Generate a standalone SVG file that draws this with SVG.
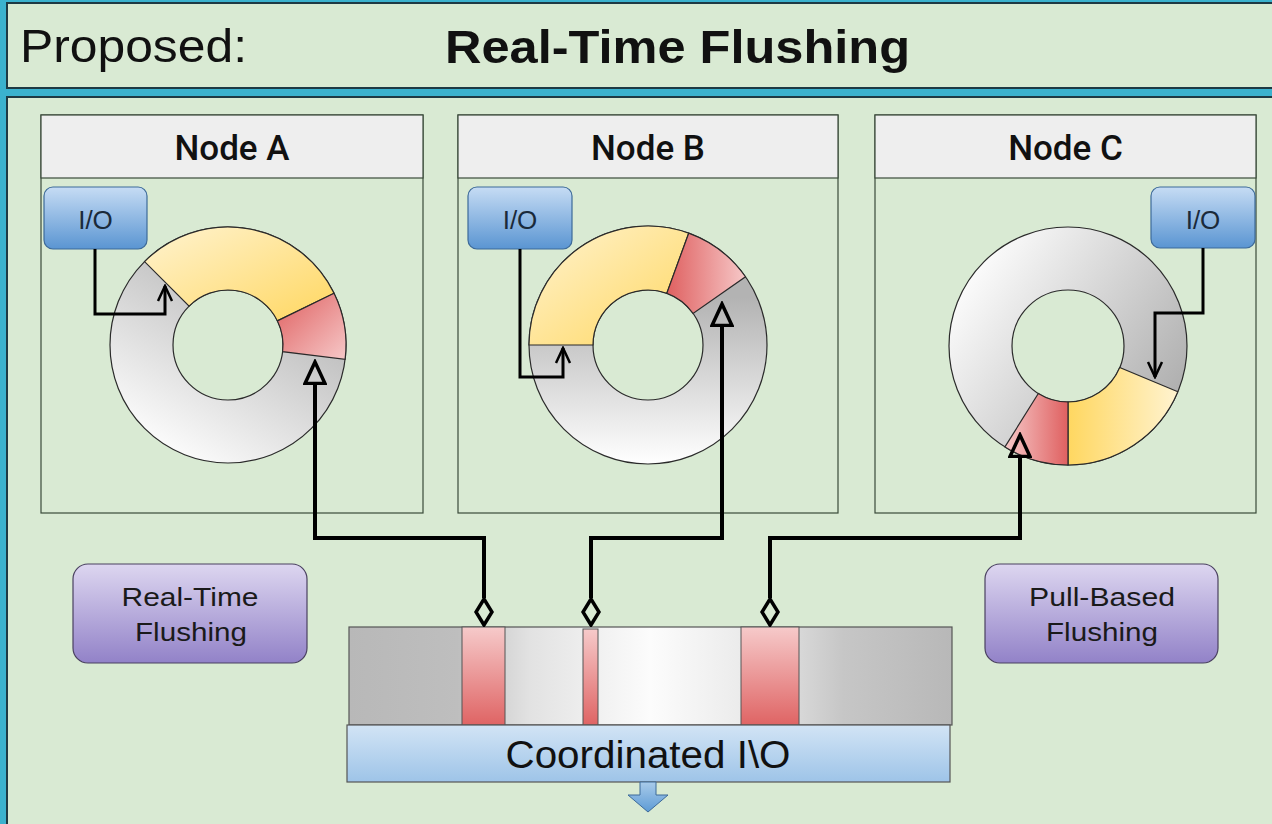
<svg xmlns="http://www.w3.org/2000/svg" width="1272" height="824" viewBox="0 0 1272 824">
<style>
.panel{fill:#d9ead3;stroke:#1e3a44;stroke-width:2}
.box{fill:none;stroke:#3a4a3a;stroke-width:1.2}
.hdr{fill:#eeeeee;stroke:#3a4a3a;stroke-width:1.2}
.hdrt{font-family:Roboto,"Liberation Sans",sans-serif;font-weight:500;font-size:35px;fill:#111;text-anchor:middle}
.io{stroke:#3d6a99;stroke-width:1.2}
.iot{font-family:"Liberation Sans",Arial,sans-serif;font-size:26px;fill:#1a2a3a;text-anchor:middle}
.seg{stroke:#2a2a2a;stroke-width:1.2}
.lbl{fill:url(#purp);stroke:#4a4060;stroke-width:1.2}
.lblt{font-family:"Liberation Sans",Arial,sans-serif;font-size:26px;fill:#1a1a1a;text-anchor:middle}
.thick{fill:none;stroke:#000;stroke-width:4}
.thin{fill:none;stroke:#000;stroke-width:3}
.strip{fill:url(#redv);stroke:#555;stroke-width:1}
</style>
<defs>
<linearGradient id="ioG" x1="0" y1="0" x2="0" y2="1"><stop offset="0" stop-color="#c6dcf4"/><stop offset="1" stop-color="#5a95d2"/></linearGradient>
<linearGradient id="purp" x1="0" y1="0" x2="0" y2="1"><stop offset="0" stop-color="#ddd6f0"/><stop offset="1" stop-color="#9282c8"/></linearGradient>
<linearGradient id="blueBar" x1="0" y1="0" x2="0" y2="1"><stop offset="0" stop-color="#d2e4f5"/><stop offset="1" stop-color="#9ec4e8"/></linearGradient>
<linearGradient id="blueArr" x1="0" y1="0" x2="0" y2="1"><stop offset="0" stop-color="#a9cbea"/><stop offset="1" stop-color="#5d9bd5"/></linearGradient>
<linearGradient id="redv" x1="0" y1="0" x2="0" y2="1"><stop offset="0" stop-color="#f6caca"/><stop offset="1" stop-color="#df6464"/></linearGradient>
<linearGradient id="barG" x1="0" y1="0" x2="1" y2="0"><stop offset="0" stop-color="#b8b8b8"/><stop offset="0.18" stop-color="#bebebe"/><stop offset="0.3" stop-color="#e2e2e2"/><stop offset="0.5" stop-color="#fcfcfc"/><stop offset="0.68" stop-color="#e8e8e8"/><stop offset="0.82" stop-color="#c6c6c6"/><stop offset="1" stop-color="#b8b8b8"/></linearGradient>
<linearGradient id="grayA" x1="0.75" y1="0.15" x2="0.25" y2="1"><stop offset="0" stop-color="#b0b0b0"/><stop offset="1" stop-color="#ffffff"/></linearGradient>
<linearGradient id="grayB" x1="0.5" y1="0.3" x2="0.5" y2="1"><stop offset="0" stop-color="#b3b3b3"/><stop offset="1" stop-color="#ffffff"/></linearGradient>
<linearGradient id="grayC" x1="0.1" y1="0.1" x2="0.95" y2="0.7"><stop offset="0" stop-color="#ffffff"/><stop offset="1" stop-color="#b0b0b0"/></linearGradient>
<linearGradient id="yelTL" x1="0" y1="0" x2="1" y2="1"><stop offset="0" stop-color="#fff3d0"/><stop offset="1" stop-color="#ffd760"/></linearGradient>
<linearGradient id="yelLR" x1="0" y1="0" x2="1" y2="0"><stop offset="0" stop-color="#ffd760"/><stop offset="1" stop-color="#fff3d0"/></linearGradient>
<linearGradient id="redTL" x1="0" y1="0" x2="1" y2="1"><stop offset="0" stop-color="#df6060"/><stop offset="1" stop-color="#f6c8c8"/></linearGradient>
<linearGradient id="redLR" x1="0" y1="0" x2="1" y2="0"><stop offset="0" stop-color="#df6060"/><stop offset="1" stop-color="#f6c8c8"/></linearGradient>
<linearGradient id="redRL" x1="0" y1="0" x2="1" y2="0"><stop offset="0" stop-color="#f6c8c8"/><stop offset="1" stop-color="#df6060"/></linearGradient>
<marker id="hollow" viewBox="0 -12 26 24" refX="1" refY="0" markerWidth="26" markerHeight="24" markerUnits="userSpaceOnUse" orient="auto">
<path d="M1.5,-10 L23,0 L1.5,10 Z" fill="none" stroke="#000" stroke-width="3.5" stroke-linejoin="miter"/>
</marker>
<marker id="diam" viewBox="-1 -10 30 20" refX="28" refY="0" markerWidth="30" markerHeight="20" markerUnits="userSpaceOnUse" orient="auto">
<path d="M1,0 L14,-8 L27,0 L14,8 Z" fill="none" stroke="#000" stroke-width="3.5"/>
</marker>
<marker id="open" viewBox="-18 -9 20 18" refX="0" refY="0" markerWidth="20" markerHeight="18" markerUnits="userSpaceOnUse" orient="auto">
<path d="M-15,-7 L0,0 L-15,7" fill="none" stroke="#000" stroke-width="2.5"/>
</marker>
</defs>

<rect x="0" y="0" width="1272" height="824" fill="#3bb2ce"/>
<g id="title">
<rect class="panel" x="7" y="3" width="1280" height="85"/>
<text x="20" y="62" font-family="'Liberation Sans',Arial,sans-serif" font-size="47" fill="#111" textLength="227" lengthAdjust="spacingAndGlyphs">Proposed:</text>
<text x="445" y="63" font-family="'Liberation Sans',Arial,sans-serif" font-size="47" font-weight="bold" fill="#111" textLength="465" lengthAdjust="spacingAndGlyphs">Real-Time Flushing</text>
</g>
<rect class="panel" x="7" y="97" width="1280" height="740"/>

<g id="node-a">
<rect class="box" x="41" y="115" width="382" height="398"/>
<rect class="hdr" x="41" y="115" width="382" height="63"/>
<text class="hdrt" x="232" y="160">Node A</text>
<circle cx="228" cy="345" r="118" fill="url(#grayA)" class="seg"/>
<circle cx="228" cy="345" r="55" fill="#d9ead3" class="seg"/>
<path class="seg" fill="url(#yelTL)" d="M144.56,261.56 A118,118 0 0 1 334.06,293.27 L277.43,320.89 A55,55 0 0 0 189.11,306.11 Z"/>
<path class="seg" fill="url(#redTL)" d="M334.06,293.27 A118,118 0 0 1 345.12,359.38 L282.59,351.70 A55,55 0 0 0 277.43,320.89 Z"/>
</g>
<g id="io-a">
<rect class="io" x="44" y="187" width="103" height="62" rx="9" fill="url(#ioG)"/>
<text class="iot" x="95.5" y="229">I/O</text>
</g>

<g id="node-b">
<rect class="box" x="458" y="115" width="380" height="398"/>
<rect class="hdr" x="458" y="115" width="380" height="63"/>
<text class="hdrt" x="648" y="160">Node B</text>
<circle cx="648" cy="345" r="119" fill="url(#grayB)" class="seg"/>
<circle cx="648" cy="345" r="55" fill="#d9ead3" class="seg"/>
<path class="seg" fill="url(#yelTL)" d="M529,345 A119,119 0 0 1 688.70,233.18 L666.81,293.32 A55,55 0 0 0 593,345 Z"/>
<path class="seg" fill="url(#redLR)" d="M688.70,233.18 A119,119 0 0 1 745.48,276.74 L693.05,313.45 A55,55 0 0 0 666.81,293.32 Z"/>
</g>
<g id="io-b">
<rect class="io" x="468" y="187" width="104" height="62" rx="9" fill="url(#ioG)"/>
<text class="iot" x="520" y="229">I/O</text>
</g>

<g id="node-c">
<rect class="box" x="875" y="115" width="381" height="398"/>
<rect class="hdr" x="875" y="115" width="381" height="63"/>
<text class="hdrt" x="1065.5" y="160">Node C</text>
<circle cx="1068" cy="346" r="119" fill="url(#grayC)" class="seg"/>
<circle cx="1068" cy="346" r="56" fill="#d9ead3" class="seg"/>
<path class="seg" fill="url(#yelLR)" d="M1177.86,391.73 A119,119 0 0 1 1068,465 L1068,402 A56,56 0 0 0 1119.70,367.52 Z"/>
<path class="seg" fill="url(#redRL)" d="M1068,465 A119,119 0 0 1 1004.94,446.92 L1038.32,393.49 A56,56 0 0 0 1068,402 Z"/>
</g>
<g id="io-c">
<rect class="io" x="1151" y="187" width="104" height="61" rx="9" fill="url(#ioG)"/>
<text class="iot" x="1203" y="229">I/O</text>
</g>

<g id="label-realtime">
<rect class="lbl" x="73" y="564" width="234" height="99" rx="15"/>
<text class="lblt" x="190" y="606" textLength="137" lengthAdjust="spacingAndGlyphs">Real-Time</text>
<text class="lblt" x="191" y="641" textLength="112" lengthAdjust="spacingAndGlyphs">Flushing</text>
</g>
<g id="label-pull">
<rect class="lbl" x="985" y="564" width="233" height="99" rx="15"/>
<text class="lblt" x="1102" y="606" textLength="146" lengthAdjust="spacingAndGlyphs">Pull-Based</text>
<text class="lblt" x="1102" y="641" textLength="112" lengthAdjust="spacingAndGlyphs">Flushing</text>
</g>

<g id="coordinated-io">
<rect x="349" y="627" width="603" height="98" fill="url(#barG)" stroke="#555" stroke-width="1.2"/>
<rect class="strip" x="462" y="627" width="43" height="98"/>
<rect class="strip" x="583" y="629" width="15" height="96"/>
<rect class="strip" x="741" y="627" width="58" height="98"/>
<rect x="347" y="725" width="603" height="57" fill="url(#blueBar)" stroke="#555" stroke-width="1.2"/>
<text x="648" y="768" font-family="'Liberation Sans',Arial,sans-serif" font-size="38" fill="#111" text-anchor="middle" textLength="285" lengthAdjust="spacingAndGlyphs">Coordinated I\O</text>
<polygon points="640,782 656,782 656,795 668,795 648,812 628,795 640,795" fill="url(#blueArr)" stroke="#3d6a99" stroke-width="1"/>
</g>

<g id="connectors">
<path class="thin" d="M95,249 V314 H165 V286" marker-end="url(#open)"/>
<path class="thin" d="M520,249 V377 H563 V348" marker-end="url(#open)"/>
<path class="thin" d="M1203,248 V313 H1155 V377" marker-end="url(#open)"/>
<path class="thick" d="M484,598 V538 H315 V384" marker-start="url(#diam)" marker-end="url(#hollow)"/>
<path class="thick" d="M591,598 V538 H722 V326" marker-start="url(#diam)" marker-end="url(#hollow)"/>
<path class="thick" d="M770,598 V538 H1020 V457" marker-start="url(#diam)" marker-end="url(#hollow)"/>
</g>
</svg>
